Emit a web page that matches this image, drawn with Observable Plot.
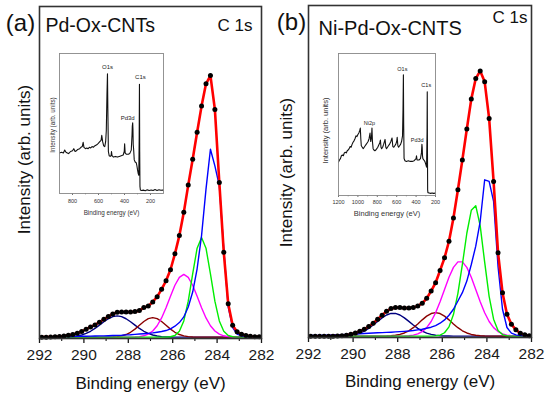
<!DOCTYPE html>
<html><head><meta charset="utf-8">
<script src="https://cdn.jsdelivr.net/npm/d3@7"></script>
<script src="https://cdn.jsdelivr.net/npm/@observablehq/plot@0.6"></script>
<style>
html,body{margin:0;padding:0;background:#fff;}
#chart{position:relative;width:550px;height:396px;overflow:hidden;background:#fff;}
</style></head><body><div id="chart"></div>
<script>
const FONT = '"Liberation Sans", Arial, Helvetica, sans-serif';

// ---- main C 1s spectra: binding energy grid (eV) ----
const energy = [291.9,291.7,291.5,291.3,291.1,290.9,290.7,290.5,290.3,290.1,289.9,289.7,289.5,289.3,289.1,288.9,288.7,288.5,288.3,288.1,287.9,287.7,287.5,287.3,287.1,286.9,286.7,286.5,286.3,286.1,285.9,285.7,285.5,285.3,285.1,284.9,284.7,284.5,284.3,284.1,283.9,283.7,283.5,283.3,283.1,282.9,282.7,282.5,282.3,282.1];

// Panel (a) Pd-Ox-CNTs
const aData = [0.4,0.4,0.45,0.5,0.6,0.75,0.95,1.2,1.6,2.1,2.8,3.5,4.1,4.9,5.8,6.6,7.4,7.9,8.0,8.0,8.0,8.1,8.4,9.3,9.8,11.0,12.6,14.8,17.4,20.7,25.5,31,38,46.2,54,62.1,70,76.7,79.2,69,47,26,10.5,4.0,2.0,1.3,0.9,0.7,0.55,0.5];
const aNavy = [0.4,0.4,0.4,0.41,0.42,0.44,0.49,0.58,0.76,1.06,1.52,2.18,3.03,4.02,5.05,5.95,6.58,6.8,6.58,5.95,5.05,4.02,3.03,2.18,1.52,1.06,0.76,0.58,0.49,0.44,0.42,0.41,0.4,0.4,0.4,0.4,0.4,0.4,0.4,0.4,0.4,0.4,0.4,0.4,0.4,0.4,0.4,0.4,0.4,0.4];
const aBrown = [0.4,0.4,0.4,0.4,0.4,0.4,0.4,0.4,0.4,0.4,0.4,0.4,0.4,0.4,0.4,0.42,0.47,0.57,0.79,1.2,1.87,2.83,3.98,5.12,5.98,6.3,5.98,5.12,3.98,2.83,1.87,1.2,0.79,0.57,0.47,0.42,0.4,0.4,0.4,0.4,0.4,0.4,0.4,0.4,0.4,0.4,0.4,0.4,0.4,0.4];
const aMagenta = [0.4,0.4,0.4,0.4,0.4,0.4,0.4,0.4,0.4,0.4,0.4,0.4,0.4,0.4,0.4,0.4,0.4,0.4,0.4,0.4,0.42,0.46,0.57,0.81,1.31,2.26,3.84,6.19,9.27,12.75,16.04,18.43,19.3,18.43,16.04,12.75,9.27,6.19,3.84,2.26,1.31,0.81,0.57,0.46,0.42,0.4,0.4,0.4,0.4,0.4];
const aGreen = [0.4,0.4,0.4,0.4,0.4,0.4,0.4,0.4,0.4,0.4,0.4,0.4,0.4,0.4,0.4,0.4,0.4,0.4,0.4,0.4,0.4,0.4,0.4,0.4,0.4,0.4,0.4,0.4,0.42,0.52,0.91,2.16,5.3,11.23,19.47,27.2,30.4,27.2,19.47,11.23,5.3,2.16,0.91,0.52,0.42,0.4,0.4,0.4,0.4,0.4];
const aBlue = [0.5,0.5,0.52,0.53,0.55,0.57,0.6,0.62,0.65,0.67,0.7,0.72,0.75,0.78,0.8,0.85,0.9,0.95,1.0,1.1,1.15,1.25,1.35,1.45,1.55,1.7,1.9,2.1,2.4,2.9,3.7,4.8,6.5,9.5,14,21,31,45,57,52,46,27,9.5,3.3,1.3,0.8,0.6,0.5,0.45,0.45];

// Panel (b) Ni-Pd-Ox-CNTS
const bData = [0.35,0.35,0.35,0.35,0.35,0.4,0.45,0.55,0.7,0.95,1.35,1.9,2.5,3.3,4.3,5.5,6.7,7.9,8.7,9.0,9.0,8.9,8.9,9.0,9.5,10.3,11.8,14,16.5,20.2,24,29,36,44.5,53.5,62.8,71.8,78,80.3,77,66,47,25.5,13.5,7,4,2.3,1.3,0.8,0.5];
const bNavy = [0.4,0.4,0.4,0.4,0.4,0.4,0.43,0.46,0.54,0.68,0.93,1.33,1.94,2.75,3.76,4.86,5.92,6.77,7.24,7.24,6.77,5.92,4.86,3.76,2.75,1.94,1.33,0.93,0.68,0.54,0.46,0.43,0.4,0.4,0.4,0.4,0.4,0.4,0.4,0.4,0.4,0.4,0.4,0.4,0.4,0.4,0.4,0.4,0.4,0.4];
const bBrown = [0.4,0.4,0.4,0.4,0.4,0.4,0.4,0.4,0.4,0.4,0.4,0.4,0.4,0.4,0.4,0.4,0.42,0.45,0.52,0.66,0.92,1.36,2.03,2.96,4.09,5.32,6.43,7.22,7.5,7.22,6.43,5.32,4.09,2.96,2.03,1.36,0.92,0.66,0.52,0.45,0.42,0.4,0.4,0.4,0.4,0.4,0.4,0.4,0.4,0.4];
const bMagenta = [0.4,0.4,0.4,0.4,0.4,0.4,0.4,0.4,0.4,0.4,0.4,0.4,0.4,0.4,0.4,0.4,0.4,0.4,0.4,0.4,0.4,0.45,0.54,0.72,1.1,1.79,2.98,4.83,7.44,10.75,14.49,18.16,21.12,22.78,22.78,21.12,18.16,14.49,10.75,7.44,4.83,2.98,1.79,1.1,0.72,0.54,0.45,0.4,0.4,0.4];
const bGreen = [0.4,0.4,0.4,0.4,0.4,0.4,0.4,0.4,0.4,0.4,0.4,0.4,0.4,0.4,0.4,0.4,0.4,0.4,0.4,0.4,0.4,0.4,0.4,0.4,0.4,0.4,0.4,0.42,0.49,0.73,1.43,3.2,6.9,13.3,22.0,31.4,38.3,39.7,33.6,22.7,12.4,5.5,2.14,0.87,0.5,0.42,0.4,0.4,0.4,0.4];
const bBlue = [0.6,0.62,0.65,0.7,0.73,0.77,0.82,0.87,0.93,1.0,1.05,1.12,1.2,1.28,1.36,1.42,1.48,1.54,1.6,1.68,1.76,1.86,1.96,2.1,2.3,2.5,2.8,3.1,3.6,4.3,5.3,6.7,8.5,11,13.5,17,22,27.5,35,47.5,47,41,21.3,8.5,3.0,1.3,0.8,0.6,0.5,0.45];

const majorTicks = [292,290,288,286,284,282];
const minorTicks = [291,289,287,285,283];
const xTitle = "Binding energy (eV)";
const yTitle = "Intensity (arb. units)";
const panelTags = ["(a)", "(b)"];
const sampleNames = ["Pd-Ox-CNTs", "Ni-Pd-Ox-CNTS"];
const coreLevel = "C 1s";

// ---- inset survey spectra ----
const insetAEnergy = [900,885,870,860,850,840,830,815,800,790,780,770,760,745,735,725,718,712,700,690,680,670,660,650,640,630,620,610,600,590,580,575,568,560,552,545,540,535,531,528,524,518,510,503,500,496,485,470,455,440,425,410,402,399,395,385,370,360,348,342,340,337,335,333,330,325,318,310,305,300,294,290,287,285,283,281,278,270,255,240,225,210,195,180,165,150,135,120,105,100];
const insetAIntensity = [29,29.5,29,31,29.5,29,28.5,30,30.5,32,30,30.5,31.5,32,33,33.5,36.5,33,32,32.5,32,33,32.5,33.5,33,34,34.5,35,36,37,38,41.5,37,34,33.5,37,45,70,85.5,60,30,27,26.5,27,30,27,26,26.5,26,26.5,27,27.5,30,35.5,29,28,28,28.5,31,42,48,50.5,46,35,32,24,22.5,22,20,17,14,13,40,78,30,5,2.5,2.2,2.4,2,2.6,2.2,2.5,2.1,2.8,2.2,2.7,2.3,2.5,2.4];
const insetATicks = [800,600,400,200];
const insetAMinor = [700,500,300];
const insetALabels = ["O1s","Pd3d","C1s"];
const insetALabelEnergy = [531,337,285];

const insetBEnergy = [1200,1190,1180,1170,1160,1150,1140,1130,1120,1110,1100,1090,1080,1070,1060,1050,1040,1030,1020,1010,1000,990,980,975,970,965,955,945,935,925,915,905,895,885,875,868,860,855,850,843,835,825,815,805,795,785,775,768,762,755,745,735,720,712,705,695,685,675,660,648,640,630,620,610,600,595,588,580,570,560,550,540,535,531,528,524,515,500,480,460,440,420,400,396,390,370,355,345,340,337,334,330,320,310,300,292,287,285,283,281,278,265,250,235,220,200];
const insetBIntensity = [23.5,25,26,28,28.5,28,30,30.5,30,31.5,32,33,34.5,34,36,37.5,38.5,40,42,41.5,43,44,46,47.5,40,35,34,33,34,35,36,37,38,40,44,38,41,47.5,38,33,32,31.5,32,33,34,35.5,37,39,34,33,34,36,39.5,34,33,34,35,36,38,40.5,34.5,34,35,36,38,41,35,34,35,36,38,42,60,85,50,26,24.5,24,24.5,24,24,24.5,26,28,25,25,26,30,36,34,28,26,25,24,22,20,45,73,35,4,2,1.8,1.5,1.8,1.5,1.7];
const insetBTicks = [1200,1000,800,600,400,200];
const insetBMinor = [1100,900,700,500,300];
const insetBLabels = ["Ni2p","O1s","Pd3d","C1s"];
const insetBLabelEnergy = [855,531,337,285];

// ---- styles ----
const componentColors = {navy:"#000080", brown:"#8b0000", magenta:"#ff00ff", green:"#00ee00", blue:"#0000ff"};
const chart = document.getElementById("chart");
function place(el, left, top) {
  el.style.position = "absolute";
  el.style.left = left + "px";
  el.style.top = top + "px";
  el.style.margin = "0";
  chart.appendChild(el);
}

function mainPanel(p) {
  const rows = energy.map((e, i) => ({e, data: p.data[i], navy: p.navy[i], brown: p.brown[i], magenta: p.magenta[i], green: p.green[i], blue: p.blue[i]}));
  return Plot.plot({
    width: 275, height: 396,
    marginLeft: p.ml, marginRight: p.mr, marginTop: p.mt, marginBottom: p.mb,
    x: {domain: [292, 282]},
    y: {domain: [0, 100], axis: null},
    style: {fontFamily: FONT, fontSize: "15.5px", background: "transparent", overflow: "visible", color: "#1a1a1a"},
    marks: [
      Plot.axisX({ticks: majorTicks, tickSize: 5, tickPadding: 5, fontSize: 15.5, tickFormat: d => String(d), label: null, strokeWidth: 1.3}),
      Plot.axisX({ticks: minorTicks, tickSize: 3, tickFormat: () => "", label: null, strokeWidth: 1.1}),
      ...["navy","brown","magenta","green","blue"].map(k => Plot.line(rows, {x: "e", y: k, stroke: componentColors[k], strokeWidth: 1.4})),
      Plot.line(rows, {x: "e", y: "data", stroke: "#ff0000", strokeWidth: 2.6}),
      Plot.dot(rows, {x: "e", y: "data", r: 2.5, fill: "#000", stroke: "none"}),
      Plot.frame({stroke: "#333", strokeWidth: 1.6}),
      Plot.text([xTitle], {frameAnchor: "bottom", dy: p.xTitleDy, fontSize: 17, lineAnchor: "middle", fill: "#111"}),
      Plot.text([yTitle], {frameAnchor: "left", rotate: -90, dx: p.yDx, dy: p.yDy, fontSize: 17, lineAnchor: "middle", textAnchor: "middle", fill: "#111"}),
      Plot.text([p.tag], {frameAnchor: "top-left", textAnchor: "middle", lineAnchor: "middle", dx: p.tagDx, dy: p.tagDy, fontSize: 24, fill: "#111"}),
      Plot.text([p.sample], {frameAnchor: "top-left", textAnchor: "start", lineAnchor: "middle", dx: p.sDx, dy: p.sDy, fontSize: p.sSize, fill: "#111"}),
      Plot.text([coreLevel], {frameAnchor: "top-right", textAnchor: "end", lineAnchor: "middle", dx: p.cDx, dy: p.cDy, fontSize: 17, fill: "#111"})
    ]
  });
}

function peakHeight(E, V, e0) {
  let m = 0;
  E.forEach((x, i) => { if (Math.abs(x - e0) <= 4) m = Math.max(m, V[i]); });
  return m;
}

function insetPanel(p) {
  const rows = p.E.map((e, i) => ({e, v: p.V[i]}));
  const labelMarks = p.labels.map((name, i) => Plot.text([{e: p.labelE[i], v: peakHeight(p.E, p.V, p.labelE[i]), name}], {
    x: "e", y: "v", text: "name", dx: p.offsets[i][0], dy: p.offsets[i][1], fontSize: p.labelSize, fill: "#222", lineAnchor: "middle"
  }));
  return Plot.plot({
    width: p.width, height: p.height,
    marginLeft: p.ml, marginRight: p.mr, marginTop: p.mt, marginBottom: p.mb,
    x: {domain: p.domain},
    y: {domain: [0, 100], axis: null},
    style: {fontFamily: FONT, fontSize: "5.5px", background: "transparent", overflow: "visible", color: "#333"},
    marks: [
      Plot.axisX({ticks: p.ticks, tickSize: 2, tickPadding: p.tickPad, fontSize: 5.5, tickFormat: d => String(d), label: null, strokeWidth: 0.7}),
      Plot.axisX({ticks: p.minor, tickSize: 1.3, tickFormat: () => "", label: null, strokeWidth: 0.6}),
      Plot.line(rows, {x: "e", y: "v", stroke: "#111", strokeWidth: 1.1}),
      Plot.frame({stroke: "#888", strokeWidth: 0.9}),
      ...labelMarks,
      Plot.text([xTitle], {frameAnchor: "bottom", dy: p.xTitleDy, fontSize: p.titleSize, lineAnchor: "middle", fill: "#333"}),
      Plot.text([yTitle], {frameAnchor: "left", rotate: -90, dx: p.yDx, dy: p.yDy, fontSize: p.titleSize, lineAnchor: "middle", textAnchor: "middle", fill: "#333"})
    ]
  });
}

place(mainPanel({data: aData, navy: aNavy, brown: aBrown, magenta: aMagenta, green: aGreen, blue: aBlue,
  ml: 39, mr: 14, mt: 6, mb: 58, xTitleDy: 45, yDx: -15, yDy: -13,
  tag: panelTags[0], tagDx: -19, tagDy: 17, sample: sampleNames[0], sDx: 6, sDy: 19, sSize: 19.5, cDx: -9, cDy: 19}), 0, 0);

place(mainPanel({data: bData, navy: bNavy, brown: bBrown, magenta: bMagenta, green: bGreen, blue: bBlue,
  ml: 33, mr: 19, mt: 5, mb: 59, xTitleDy: 44.5, yDx: -22, yDy: 1,
  tag: panelTags[1], tagDx: -17, tagDy: 16.5, sample: sampleNames[1], sDx: 10, sDy: 23.3, sSize: 20, cDx: -4, cDy: 12.2}), 275, 0);

place(insetPanel({E: insetAEnergy, V: insetAIntensity, domain: [900, 100], ticks: insetATicks, minor: insetAMinor,
  labels: insetALabels, labelE: insetALabelEnergy, offsets: [[0,-7],[-5,-5],[1,-7]], labelSize: 6,
  width: 130, height: 172, ml: 19, mr: 7, mt: 3, mb: 29, tickPad: 4, xTitleDy: 19, yDx: -7, yDy: 1.5, titleSize: 6.3}), 40, 50);

place(insetPanel({E: insetBEnergy, V: insetBIntensity, domain: [1200, 200], ticks: insetBTicks, minor: insetBMinor,
  labels: insetBLabels, labelE: insetBLabelEnergy, offsets: [[-2.5,-5],[-1,-5.5],[-5,-4],[-1,-6.5]], labelSize: 5.5,
  width: 132, height: 172, ml: 28, mr: 7, mt: 3, mb: 27, tickPad: 3, xTitleDy: 18, yDx: -12.5, yDy: 6, titleSize: 7.5}), 310, 50);
</script>
</body></html>
